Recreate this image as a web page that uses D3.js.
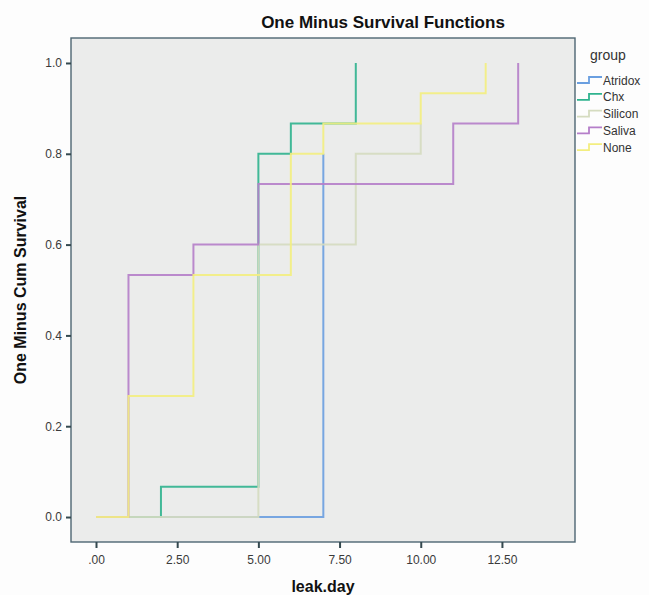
<!DOCTYPE html>
<html>
<head>
<meta charset="utf-8">
<script src="https://cdn.jsdelivr.net/npm/d3@7"></script>
<style>
  body { margin: 0; background: #fdfdfd; }
  text { font-family: "Liberation Sans", Arial, sans-serif; }
</style>
</head>
<body>
<div id="chart"></div>
<script>
// groups and their step points (day, one minus cum survival)
const groups = ["Atridox", "Chx", "Silicon", "Saliva", "None"];
const colors = ["#6a9fe0", "#2fb38e", "#d5dcc0", "#b57ec9", "#f3ee80"];
const atridox = [[0, 0], [7, 0.8]];
const chx = [[0, 0], [2, 0.0667], [5, 0.8], [6, 0.8667], [8, 1]];
const silicon = [[0, 0], [5, 0.6], [8, 0.8], [10, 0.8667]];
const saliva = [[0, 0], [1, 0.5333], [3, 0.6], [5, 0.7333], [11, 0.8667], [13, 1]];
const none = [[0, 0], [1, 0.2667], [3, 0.5333], [6, 0.8], [7, 0.8667], [10, 0.9333], [12, 1]];
const series = [atridox, chx, silicon, saliva, none];

const xTicks = [0, 2.5, 5, 7.5, 10, 12.5];
const yTicks = [0, 0.2, 0.4, 0.6, 0.8, 1.0];

const W = 649, H = 595;
const pLeft = 71, pRight = 575, pTop = 38, pBottom = 542;

const svg = d3.select("#chart").append("svg")
  .attr("width", W).attr("height", H);

const x = d3.scaleLinear().domain([-0.77, 14.75]).range([pLeft, pRight]);
const y = d3.scaleLinear().domain([-0.055, 1.055]).range([pBottom, pTop]);

// plot background
svg.append("rect")
  .attr("x", pLeft).attr("y", pTop)
  .attr("width", pRight - pLeft).attr("height", pBottom - pTop)
  .attr("fill", "#ebeceb")
  .attr("stroke", "#4e6672").attr("stroke-width", 1.4);

// axes
const xAxis = svg.append("g")
  .attr("transform", `translate(0,${pBottom})`)
  .call(d3.axisBottom(x).tickValues(xTicks).tickSize(6).tickSizeOuter(0)
    .tickFormat(d => d === 0 ? ".00" : d3.format(".2f")(d)));
const yAxis = svg.append("g")
  .attr("transform", `translate(${pLeft},0)`)
  .call(d3.axisLeft(y).tickValues(yTicks).tickSize(5).tickSizeOuter(0)
    .tickFormat(d3.format(".1f")));
[xAxis, yAxis].forEach(a => {
  a.select(".domain").remove();
  a.selectAll("line").attr("stroke", "#34494f").attr("stroke-width", 2);
  a.selectAll("text").attr("fill", "#3a3a3a").style("font-size", "12px");
});
xAxis.selectAll("text").attr("dy", "1.05em");
yAxis.selectAll("text").attr("dx", "-1px");

// step lines
const line = d3.line()
  .x(d => x(d[0]))
  .y(d => y(d[1]))
  .curve(d3.curveStepAfter);

svg.append("g")
  .selectAll("path")
  .data(series)
  .join("path")
  .attr("d", line)
  .attr("fill", "none")
  .attr("stroke", (d, i) => colors[i])
  .attr("stroke-width", 2)
  .attr("stroke-opacity", 0.9);

// title
svg.append("text")
  .attr("x", 383).attr("y", 28)
  .attr("text-anchor", "middle")
  .style("font-size", "17px").style("font-weight", "bold")
  .attr("fill", "#111")
  .text("One Minus Survival Functions");

// axis labels
svg.append("text")
  .attr("x", 323).attr("y", 592)
  .attr("text-anchor", "middle")
  .style("font-size", "16px").style("font-weight", "bold")
  .attr("fill", "#111")
  .text("leak.day");

svg.append("text")
  .attr("transform", "translate(26,290) rotate(-90)")
  .attr("text-anchor", "middle")
  .style("font-size", "16px").style("font-weight", "bold")
  .attr("fill", "#111")
  .text("One Minus Cum Survival");

// legend
const legend = svg.append("g");
legend.append("text")
  .attr("x", 590).attr("y", 60)
  .style("font-size", "14px")
  .attr("fill", "#333")
  .text("group");

const item = legend.selectAll("g.item")
  .data(groups)
  .join("g")
  .attr("class", "item")
  .attr("transform", (d, i) => `translate(577,${80 + i * 16.8})`);
item.append("path")
  .attr("d", "M0,3 H12 V-3 H25")
  .attr("fill", "none")
  .attr("stroke", (d, i) => colors[i])
  .attr("stroke-width", 1.8);
item.append("text")
  .attr("x", 26).attr("y", 4.5)
  .style("font-size", "12px")
  .attr("fill", "#333")
  .text(d => d);
</script>
</body>
</html>
